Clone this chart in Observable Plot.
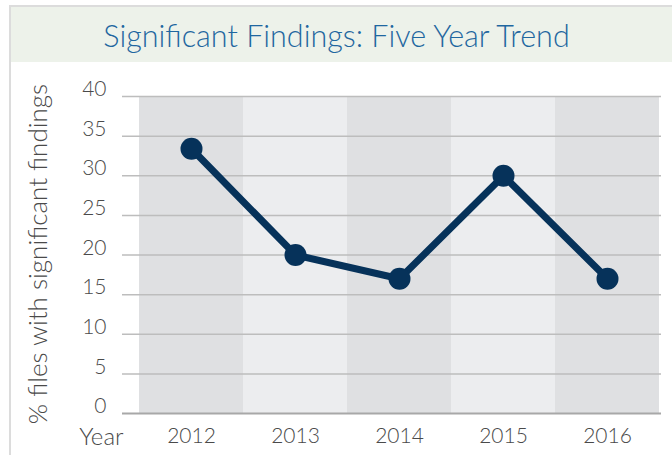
<!DOCTYPE html>
<html>
<head>
<meta charset="utf-8">
<script src="https://cdn.jsdelivr.net/npm/d3@7"></script>
<script src="https://cdn.jsdelivr.net/npm/@observablehq/plot@0.6"></script>
<style>
  html, body { margin: 0; padding: 0; background: #ffffff; }
  #wrap { position: relative; width: 672px; height: 455px; overflow: hidden; background: #ffffff; }
  #topline { position: absolute; left: 9px; top: 5px; width: 663px; height: 2px; background: #dcdcdc; }
  #leftline { position: absolute; left: 9px; top: 5px; width: 2px; height: 450px; background: #dcdcdc; }
  #title { position: absolute; left: 11px; top: 7px; width: 661px; height: 55px; background: #edf2ea;
           font-family: Lato, "Open Sans", sans-serif; font-weight: 300; font-size: 30.5px; color: #1f67a0;
           line-height: 56px; text-align: center; text-indent: -10px; }
  #chart { position: absolute; left: 0; top: 62px; }
  #chart text { font-weight: 300; }
</style>
</head>
<body>
<div id="wrap">
  <div id="topline"></div>
  <div id="leftline"></div>
  <div id="title"></div>
  <div id="chart"></div>
</div>
<script>
const titleText = "Significant Findings: Five Year Trend";
const years = ["2012", "2013", "2014", "2015", "2016"];
const values = [33.4, 20, 17, 30, 17];
const yTicks = [0, 5, 10, 15, 20, 25, 30, 35, 40];
const yLabel = "% files with significant findings";
const xLabel = "Year";

document.getElementById("title").textContent = titleText;

const points = years.map((year, i) => ({year, value: values[i]}));

const chart = Plot.plot({
  width: 672,
  height: 393,
  marginLeft: 137,
  marginRight: 11,
  marginTop: 34,
  marginBottom: 42,
  style: {fontFamily: "Lato, 'Open Sans', sans-serif", fontSize: "21px", color: "#4a4a4a", background: "transparent", overflow: "visible"},
  x: {domain: years, padding: 0},
  y: {domain: [0, 40]},
  color: {type: "identity"},
  marks: [
    Plot.barY(years, {x: d => d, y1: 0, y2: 40, fill: (d, i) => (i % 2 ? "#ecedef" : "#dfe0e2")}),
    Plot.ruleY(yTicks.filter(t => t > 0), {stroke: "#bdbdbd", strokeWidth: 1.5, insetLeft: -15}),
    Plot.ruleY([0], {stroke: "#a8a8a8", strokeWidth: 2, insetLeft: -15}),
    Plot.axisY({ticks: yTicks, tickSize: 0, tickPadding: 31, dy: -7, label: null, fontSize: 21}),
    Plot.axisX({tickSize: 0, tickPadding: 15, label: null, fontSize: 21}),
    Plot.line(points, {x: "year", y: "value", stroke: "#06325a", strokeWidth: 7}),
    Plot.dot(points, {x: "year", y: "value", r: 11, fill: "#06325a"}),
    Plot.text([xLabel], {frameAnchor: "bottom-left", text: d => d, dx: -14, dy: 24, textAnchor: "end", lineAnchor: "middle", fontSize: 24, fill: "#4a4a4a"}),
    Plot.text([yLabel], {frameAnchor: "left", text: d => d, rotate: -90, dx: -99, dy: -1, textAnchor: "middle", lineAnchor: "middle", fontSize: 26, fill: "#4a4a4a"})
  ]
});
document.getElementById("chart").appendChild(chart);
</script>
</body>
</html>
